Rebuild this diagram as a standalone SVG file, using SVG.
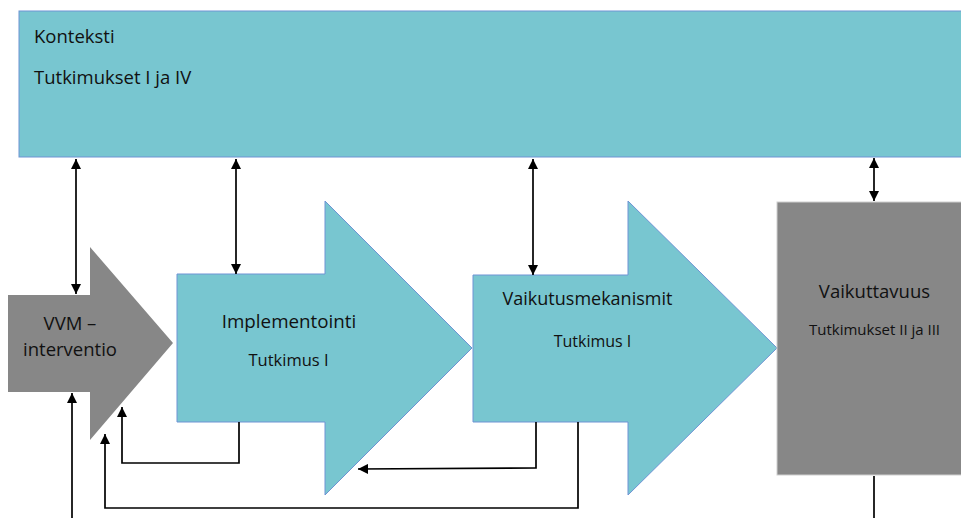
<svg xmlns="http://www.w3.org/2000/svg" width="961" height="518" viewBox="0 0 961 518">
<defs>
<marker id="ah" viewBox="0 0 10 10" refX="10" refY="5" markerWidth="6" markerHeight="6" markerUnits="strokeWidth" orient="auto-start-reverse">
<path d="M0,0 L10,5 L0,10 z" fill="#000"/>
</marker>
<style>
.teal{fill:#78c6d0;stroke:#6e93d4;stroke-width:1}
.gray{fill:#878787;stroke:#cfcfcf;stroke-width:1}
.t{font-family:"Open Sans","Noto Sans","Liberation Sans",sans-serif;fill:#111}
.c{stroke:#000;stroke-width:1.7;fill:none}
</style>
</defs>
<rect width="961" height="518" fill="#fff"/>
<g id="konteksti">
<rect class="teal" x="19" y="11" width="950" height="146"/>
<text class="t" x="34" y="43" font-size="18.5">Konteksti</text>
<text class="t" x="34" y="84" font-size="18.5">Tutkimukset I ja IV</text>
</g>
<g id="vvm">
<path class="gray" style="stroke:none" d="M8,295 H90 V247 L173,343 L90,440 V392 H8 Z"/>
<text class="t" x="70" y="330" font-size="18.5" text-anchor="middle">VVM –</text>
<text class="t" x="70" y="356" font-size="18.5" text-anchor="middle">interventio</text>
</g>
<g id="implementointi">
<path class="teal" d="M177,274 H325 V201 L472,348 L325,495 V422 H177 Z"/>
<text class="t" x="289" y="328" font-size="18.8" text-anchor="middle">Implementointi</text>
<text class="t" x="288.5" y="366" font-size="16.5" text-anchor="middle">Tutkimus I</text>
</g>
<g id="vaikutusmekanismit">
<path class="teal" d="M473,275 H628 V201 L777,348 L628,495 V422 H473 Z"/>
<text class="t" x="587.5" y="305" font-size="18" text-anchor="middle">Vaikutusmekanismit</text>
<text class="t" x="592.5" y="347" font-size="16" text-anchor="middle">Tutkimus I</text>
</g>
<g id="vaikuttavuus">
<rect class="gray" x="777" y="202" width="200" height="273"/>
<text class="t" x="874.5" y="298" font-size="18.5" text-anchor="middle">Vaikuttavuus</text>
<text class="t" x="874.5" y="335" font-size="15" text-anchor="middle">Tutkimukset II ja III</text>
</g>
<g id="connectors">
<line class="c" x1="76" y1="159" x2="76" y2="294" marker-start="url(#ah)" marker-end="url(#ah)"/>
<line class="c" x1="236" y1="159" x2="236" y2="274" marker-start="url(#ah)" marker-end="url(#ah)"/>
<line class="c" x1="533" y1="159" x2="533" y2="275" marker-start="url(#ah)" marker-end="url(#ah)"/>
<line class="c" x1="874" y1="158" x2="874" y2="201" marker-start="url(#ah)" marker-end="url(#ah)"/>
<line class="c" x1="72" y1="518" x2="72" y2="393" marker-end="url(#ah)"/>
<polyline class="c" points="239,422 239,463 122,463 122,407" marker-end="url(#ah)"/>
<polyline class="c" points="536,422 536,468 358,469" marker-end="url(#ah)"/>
<polyline class="c" points="578,422 578,508 105,508 105,434" marker-end="url(#ah)"/>
<line class="c" x1="874" y1="476" x2="874" y2="518"/>
</g>
</svg>
